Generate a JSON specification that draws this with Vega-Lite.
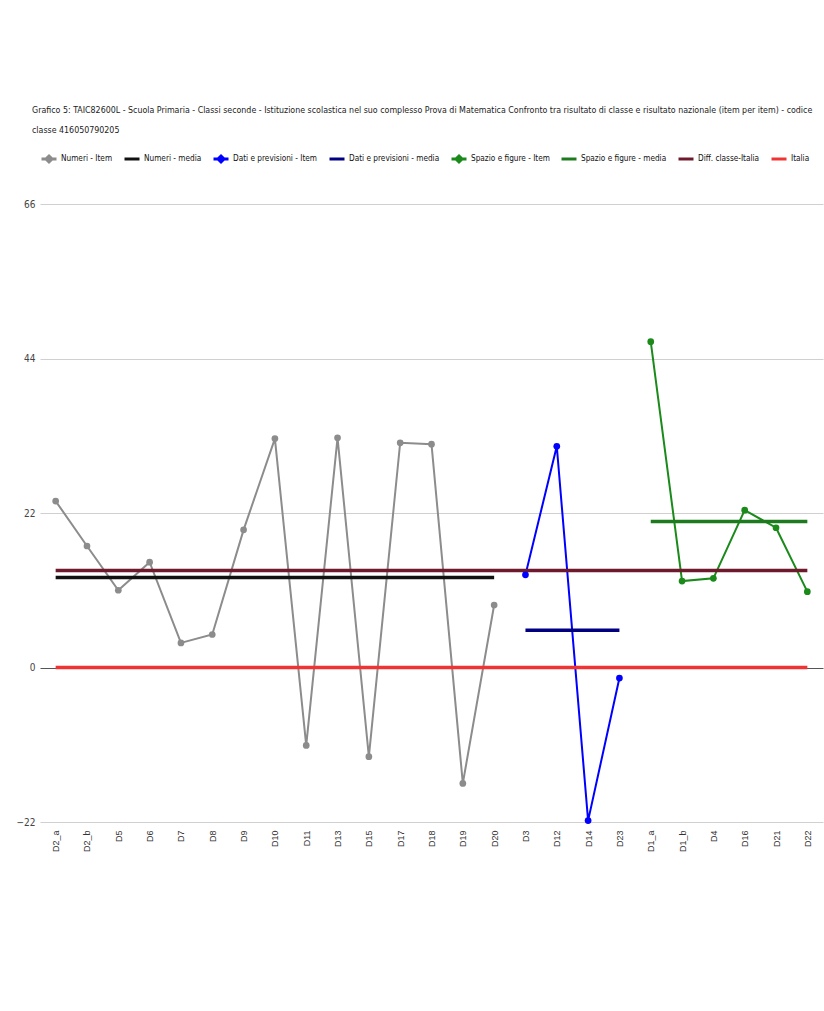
{
  "$schema": "https://vega.github.io/schema/vega-lite/v6.json",
  "width": 783,
  "height": 618,
  "autosize": {"type": "none"},
  "padding": {"left": 40, "top": 204, "right": 1, "bottom": 189},
  "background": "white",
  "title": {
    "text": ["Grafico 5: TAIC82600L - Scuola Primaria - Classi seconde - Istituzione scolastica nel suo complesso Prova di Matematica Confronto tra risultato di classe e risultato nazionale (item per item) - codice", "classe 416050790205"],
    "anchor": "start",
    "frame": "group",
    "dx": -8,
    "fontSize": 8.8,
    "font": "DejaVu Sans Condensed, sans-serif",
    "fontWeight": "normal",
    "color": "#222222",
    "lineHeight": 20,
    "offset": 15
  },
  "config": {
    "view": {"stroke": null},
    "font": "DejaVu Sans Condensed, sans-serif"
  },
  "datasets": {
    "items": [
      {"series": "Numeri - Item", "item": "D2_a", "value": 23.7},
      {"series": "Numeri - Item", "item": "D2_b", "value": 17.3},
      {"series": "Numeri - Item", "item": "D5", "value": 11.0},
      {"series": "Numeri - Item", "item": "D6", "value": 15.0},
      {"series": "Numeri - Item", "item": "D7", "value": 3.5},
      {"series": "Numeri - Item", "item": "D8", "value": 4.7},
      {"series": "Numeri - Item", "item": "D9", "value": 19.6},
      {"series": "Numeri - Item", "item": "D10", "value": 32.6},
      {"series": "Numeri - Item", "item": "D11", "value": -11.1},
      {"series": "Numeri - Item", "item": "D13", "value": 32.7},
      {"series": "Numeri - Item", "item": "D15", "value": -12.7},
      {"series": "Numeri - Item", "item": "D17", "value": 32.0},
      {"series": "Numeri - Item", "item": "D18", "value": 31.8},
      {"series": "Numeri - Item", "item": "D19", "value": -16.5},
      {"series": "Numeri - Item", "item": "D20", "value": 8.9},
      {"series": "Dati e previsioni - Item", "item": "D3", "value": 13.2},
      {"series": "Dati e previsioni - Item", "item": "D12", "value": 31.5},
      {"series": "Dati e previsioni - Item", "item": "D14", "value": -21.8},
      {"series": "Dati e previsioni - Item", "item": "D23", "value": -1.5},
      {"series": "Spazio e figure - Item", "item": "D1_a", "value": 46.4},
      {"series": "Spazio e figure - Item", "item": "D1_b", "value": 12.3},
      {"series": "Spazio e figure - Item", "item": "D4", "value": 12.7},
      {"series": "Spazio e figure - Item", "item": "D16", "value": 22.4},
      {"series": "Spazio e figure - Item", "item": "D21", "value": 19.9},
      {"series": "Spazio e figure - Item", "item": "D22", "value": 10.8}
    ],
    "means": [
      {"series": "Numeri - media", "from": "D2_a", "to": "D20", "value": 12.8},
      {"series": "Dati e previsioni - media", "from": "D3", "to": "D23", "value": 5.3},
      {"series": "Spazio e figure - media", "from": "D1_a", "to": "D22", "value": 20.8},
      {"series": "Diff. classe-Italia", "from": "D2_a", "to": "D22", "value": 13.8},
      {"series": "Italia", "from": "D2_a", "to": "D22", "value": 0}
    ]
  },
  "layer": [
    {
      "data": {"name": "items"},
      "mark": {"type": "line", "strokeWidth": 2},
      "encoding": {
        "x": {
          "field": "item", "type": "nominal",
          "scale": {"type": "point", "padding": 0.5, "domain": ["D2_a","D2_b","D5","D6","D7","D8","D9","D10","D11","D13","D15","D17","D18","D19","D20","D3","D12","D14","D23","D1_a","D1_b","D4","D16","D21","D22"]},
          "axis": {"title": null, "labelAngle": -90, "domain": false, "ticks": false, "grid": false, "labelPadding": 8, "labelFontSize": 9, "labelFont": "Liberation Sans", "labelColor": "#333333"}
        },
        "y": {
          "field": "value", "type": "quantitative",
          "scale": {"domain": [-22, 66], "nice": false, "zero": false},
          "axis": {"title": null, "values": [-22, 0, 22, 44, 66], "domain": false, "ticks": false, "labelPadding": 5, "labelFontSize": 10, "labelColor": "#444444",
                   "gridColor": {"condition": {"test": "datum.value === 0", "value": "#555555"}, "value": "#d0d0d0"}}
        },
        "color": {
          "field": "series", "type": "nominal",
          "scale": {
            "domain": ["Numeri - Item", "Numeri - media", "Dati e previsioni - Item", "Dati e previsioni - media", "Spazio e figure - Item", "Spazio e figure - media", "Diff. classe-Italia", "Italia"],
            "range": ["#8c8c8c", "#111111", "#0000ff", "#000080", "#1a8a1a", "#1e7a1e", "#6e1a2c", "#f03434"]
          },
          "legend": {
            "orient": "top", "direction": "horizontal", "title": null, "offset": 36,
            "labelFontSize": 8.2, "labelColor": "#111111", "labelOffset": 3,
            "symbolType": "stroke", "symbolStrokeWidth": 3, "symbolSize": 225, "columnPadding": 5,
            "encode": {"symbols": {"update": {
              "shape": {"signal": "test(/Item/, datum.value) ? 'M-1,0L1,0M0,-0.4L0.4,0L0,0.4L-0.4,0Z' : 'M-1,0L1,0M0,-0.4M0,0.4'"},
              "fill": {"signal": "test(/Item/, datum.value) ? scale('color', datum.value) : 'transparent'"},
              "stroke": {"signal": "scale('color', datum.value)"}
            }}}
          }
        },
        "order": {"value": null}
      }
    },
    {
      "data": {"name": "means"},
      "mark": {"type": "rule", "strokeWidth": 3.5},
      "encoding": {
        "x": {"field": "from", "type": "nominal"},
        "x2": {"field": "to"},
        "y": {"field": "value", "type": "quantitative"},
        "color": {"field": "series", "type": "nominal"}
      }
    },
    {
      "data": {"name": "items"},
      "mark": {"type": "point", "filled": true, "size": 45, "opacity": 1},
      "encoding": {
        "x": {"field": "item", "type": "nominal"},
        "y": {"field": "value", "type": "quantitative"},
        "color": {"field": "series", "type": "nominal"}
      }
    }
  ]
}
